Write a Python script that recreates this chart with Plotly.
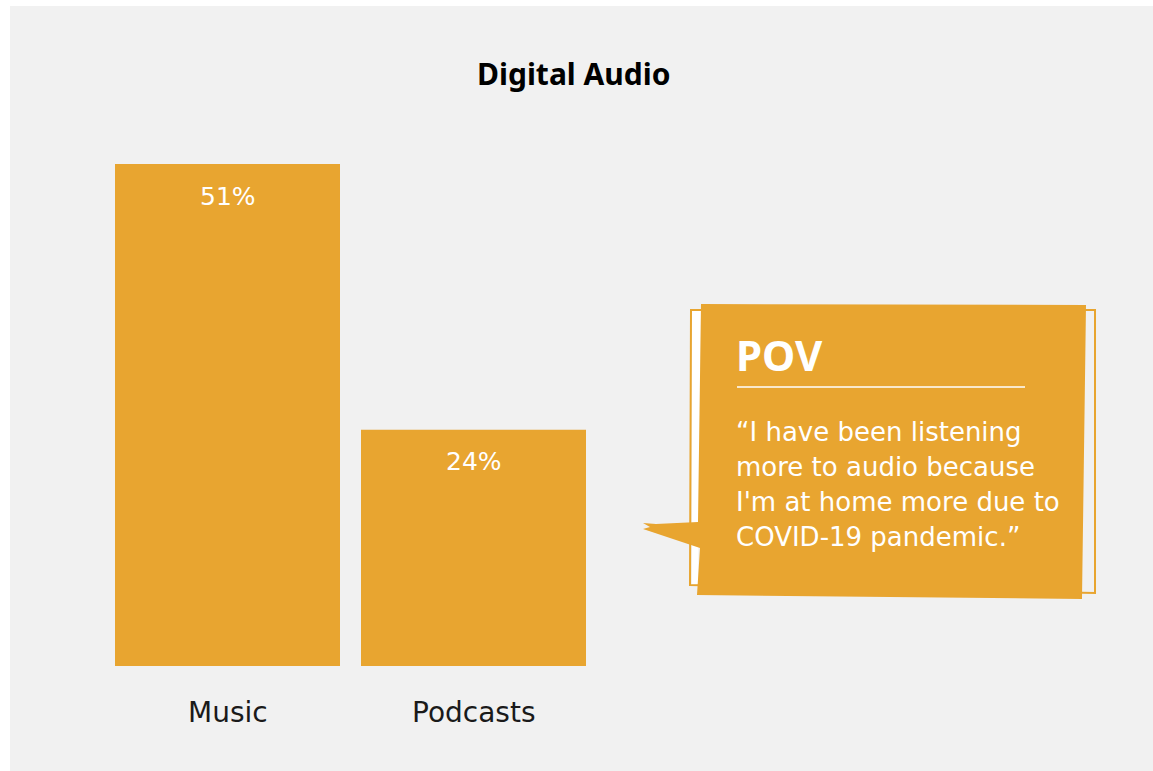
import plotly.graph_objects as go

# ---- data ----
categories = ["Music", "Podcasts"]
shares = [51, 24]
chart_title = "Digital Audio"
pov_heading = "POV"
pov_quote_lines = [
    "\u201cI have been listening",
    "more to audio because",
    "I'm at home more due to",
    "COVID-19 pandemic.\u201d",
]

# ---- styling ----
W, H = 1153, 771
GOLD = "#E8A530"
PANEL = "#F1F1F1"
HEAD_FONT = "Noto Sans"
BODY_FONT = "DejaVu Sans"

# pixel layout helpers (plot area spans the full page)
BASE_PX = 666.0            # baseline of the bars
UNIT_PX = 502.0 / 51.0     # pixels per percentage point
CAT0_PX, CAT_STEP = 227.5, 246.0


def px(x):
    return x / W


def py(y):
    return 1 - y / H


def path(points):
    return "M " + " L ".join(f"{px(a):.5f},{py(b):.5f}" for a, b in points) + " Z"


fig = go.Figure()
fig.add_trace(go.Bar(
    x=categories, y=shares,
    marker=dict(color=GOLD, line=dict(width=0)),
    hoverinfo="skip",
))

annotations = []
for c, v in zip(categories, shares):
    # value label inside the top of the bar
    annotations.append(dict(
        x=c, y=v, xref="x", yref="y", text=f"{v}%", showarrow=False,
        yanchor="middle", yshift=-32,
        font=dict(family=BODY_FONT, size=25, color="white"),
    ))
    # category label below the bar
    annotations.append(dict(
        x=c, y=py(712), xref="x", yref="paper", text=c, showarrow=False,
        yanchor="middle",
        font=dict(family=BODY_FONT, size=28, color="#1A1A1A"),
    ))

annotations.append(dict(
    x=px(574), y=py(73), xref="paper", yref="paper", text=f"<b>{chart_title}</b>",
    showarrow=False, xanchor="center", yanchor="middle",
    font=dict(family=HEAD_FONT, size=30, color="#000000"),
))

annotations.append(dict(
    x=px(734), y=py(355), xref="paper", yref="paper", text=f"<b>{pov_heading}</b>",
    showarrow=False, xanchor="left", yanchor="middle",
    font=dict(family=HEAD_FONT, size=42, color="white"),
))
for i, line in enumerate(pov_quote_lines):
    annotations.append(dict(
        x=px(734), y=py(432 + 35 * i), xref="paper", yref="paper", text=line,
        showarrow=False, xanchor="left", yanchor="middle",
        font=dict(family=BODY_FONT, size=26, color="white"),
    ))

shapes = [
    # grey panel
    dict(type="rect", xref="paper", yref="paper", layer="below",
         x0=px(10), x1=px(W), y0=py(H), y1=py(6),
         fillcolor=PANEL, line=dict(width=0)),
    # back card of the callout
    dict(type="path", xref="paper", yref="paper", layer="above",
         path=path([(691, 310), (1095, 310), (1095, 593), (690, 585)]),
         fillcolor=PANEL, line=dict(color=GOLD, width=2)),
    # white edge showing on the left of the back card
    dict(type="path", xref="paper", yref="paper", layer="above",
         path=path([(692, 311), (701, 311), (698, 584), (692, 584)]),
         fillcolor="white", line=dict(width=0)),
    # front card with pointer
    dict(type="path", xref="paper", yref="paper", layer="above",
         path=path([(701, 304), (1086, 305), (1082, 599), (697, 595),
                    (700, 548), (643, 529), (650, 527), (643, 523),
                    (656, 524), (698, 522)]),
         fillcolor=GOLD, line=dict(width=0)),
    # rule under the heading
    dict(type="line", xref="paper", yref="paper", layer="above",
         x0=px(737), x1=px(1025), y0=py(387), y1=py(387),
         line=dict(color="white", width=1.5)),
]

fig.update_layout(
    width=W, height=H, autosize=False,
    margin=dict(l=0, r=0, t=0, b=0, pad=0),
    paper_bgcolor="white", plot_bgcolor="rgba(0,0,0,0)",
    bargap=1 - 225.0 / 246.0,
    showlegend=False,
    xaxis=dict(
        range=[-CAT0_PX / CAT_STEP, (W - CAT0_PX) / CAT_STEP],
        showgrid=False, zeroline=False, showticklabels=False, ticks="",
        showline=False, fixedrange=True,
    ),
    yaxis=dict(
        range=[(BASE_PX - H) / UNIT_PX, BASE_PX / UNIT_PX],
        showgrid=False, zeroline=False, showticklabels=False, ticks="",
        showline=False, fixedrange=True,
    ),
    annotations=annotations,
    shapes=shapes,
)

fig.write_html("out.html", config={"displayModeBar": False})
